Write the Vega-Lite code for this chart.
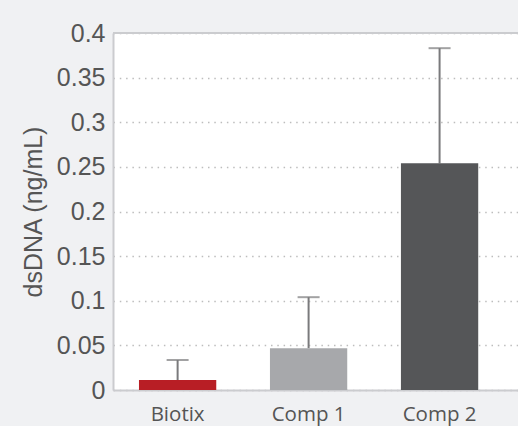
{
  "$schema": "https://vega.github.io/schema/vega-lite/v6.json",
  "width": 405,
  "height": 357,
  "autosize": {"type": "none"},
  "padding": {"left": 113, "top": 33, "right": 0, "bottom": 36},
  "background": "#f0f1f3",
  "config": {"view": {"fill": "white", "stroke": null}},
  "data": {"values": [
    {"group": "Biotix", "value": 0.0112, "upper": 0.0336},
    {"group": "Comp 1", "value": 0.0467, "upper": 0.104},
    {"group": "Comp 2", "value": 0.254, "upper": 0.383}
  ]},
  "encoding": {
    "x": {"field": "group", "type": "nominal", "sort": null,
      "scale": {"paddingInner": 0.41, "paddingOuter": 0.251, "align": 0.395},
      "axis": {"title": null, "labelAngle": 0, "ticks": false, "domain": true, "domainColor": "#cbcccf", "domainWidth": 2,
        "labelFont": "Open Sans", "labelFontSize": 20.5, "labelColor": "#555555", "labelPadding": 14}}
  },
  "layer": [
    {
      "mark": {"type": "rule", "color": "#cbcccf", "strokeWidth": 2},
      "encoding": {"x": null, "y": {"datum": 0.4, "type": "quantitative"}}
    },
    {
      "mark": {"type": "rule", "color": "#7a7a7c", "strokeWidth": 2},
      "encoding": {
        "y": {"field": "value", "type": "quantitative"},
        "y2": {"field": "upper"}
      }
    },
    {
      "mark": {"type": "tick", "color": "#7a7a7c", "thickness": 2, "size": 22, "orient": "horizontal"},
      "encoding": {"y": {"field": "upper", "type": "quantitative"}}
    },
    {
      "mark": {"type": "bar"},
      "encoding": {
        "y": {"field": "value", "type": "quantitative",
          "scale": {"domain": [0, 0.4], "nice": false},
          "axis": {"title": "dsDNA (ng/mL)", "values": [0, 0.05, 0.1, 0.15, 0.2, 0.25, 0.3, 0.35, 0.4], "format": "~g",
            "ticks": false, "domain": true, "domainColor": "#cbcccf", "domainWidth": 2,
            "grid": true, "gridColor": "#bdbdbd", "gridDash": [1.5, 4.8], "gridWidth": 1.3,
            "labelFont": "Liberation Sans", "labelFontSize": 25, "labelColor": "#555555", "labelPadding": 8,
            "titleFont": "Liberation Sans", "titleFontSize": 25, "titleFontWeight": "normal", "titleColor": "#555555", "titlePadding": 10}},
        "color": {"field": "group", "type": "nominal", "legend": null,
          "scale": {"domain": ["Biotix", "Comp 1", "Comp 2"], "range": ["#b81e25", "#a7a8ab", "#555658"]}}
      }
    }
  ]
}
